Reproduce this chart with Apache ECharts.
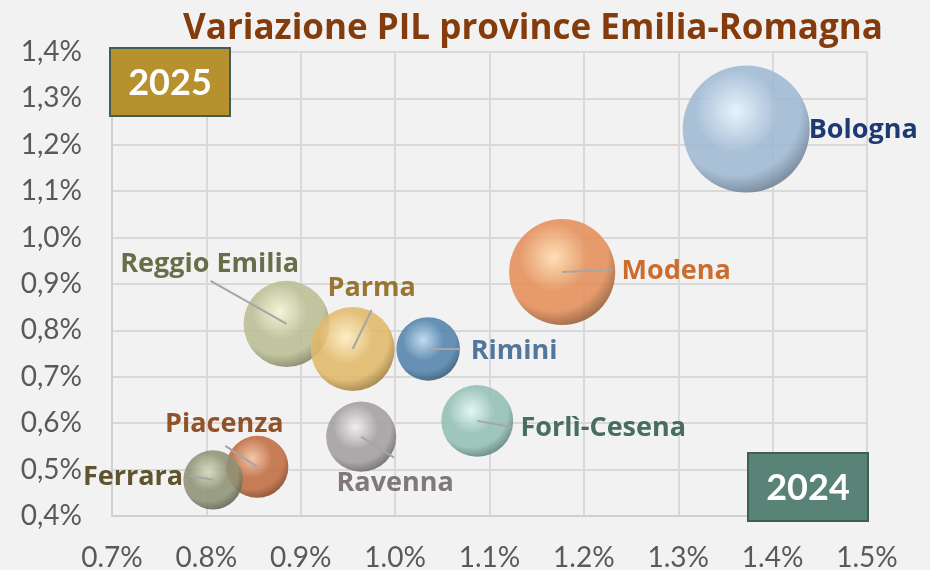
<!DOCTYPE html>
<html>
<head>
<meta charset="utf-8">
<script src="https://cdn.jsdelivr.net/npm/echarts@6/dist/echarts.min.js"></script>
<style>
  html, body { margin: 0; padding: 0; background: #F2F2F2; }
  #chart { width: 930px; height: 570px; }
</style>
</head>
<body>
<div id="chart"></div>
<script>
// dati: variazione PIL 2024 (asse x) e 2025 (asse y), in %
const province = ['Bologna', 'Modena', 'Reggio Emilia', 'Parma', 'Rimini', 'Forlì-Cesena', 'Ravenna', 'Piacenza', 'Ferrara'];
const var2024 = [1.372, 1.177, 0.885, 0.955, 1.035, 1.087, 0.964, 0.854, 0.807];
const var2025 = [1.234, 0.926, 0.814, 0.760, 0.760, 0.605, 0.571, 0.506, 0.478];
// dimensione bolla (PIL, mld euro, stimato)
const pil = [44, 30.7, 20.2, 19.2, 11.0, 14.1, 13.4, 10.5, 9.6];

// stile bolle: [luce, corpo, bordo]
const bubbleColors = [
  ['#E6F3FC', '#9FBAD3', '#56687A'],
  ['#FFDDAE', '#E58F5A', '#774828'],
  ['#F4F4D6', '#BBBE94', '#6B6D52'],
  ['#FFEDC0', '#E1B96A', '#84672A'],
  ['#B8D9F1', '#5383AC', '#2A4561'],
  ['#E0F8F1', '#93C0B6', '#486961'],
  ['#F2EEEE', '#A49EA1', '#535053'],
  ['#F4C2A0', '#C06C40', '#6B3518'],
  ['#D5D9B8', '#8E9275', '#4A4F3A']
];
const labelColors = ['#002060', '#C55A11', '#545B32', '#8C6417', '#3B6591', '#2F5B4B', '#6F6668', '#843C0C', '#4A3D12'];
// posizione etichette rispetto al centro bolla (px) e fine linea guida
const labelOffset = [[117, 1], [114, -1], [-77, -60], [19, -61], [86, 2], [126, 7], [34, 47], [-33, -43], [-80, -2]];
const lineEnd = [null, [50, -2], [-76, -43], [19, -39], [32, 0], [34, 6], [33, 21], [-32, -21], [-24, -4]];

const myChart = echarts.init(document.getElementById('chart'));

const bubbleData = province.map(function (name, i) {
  const c = bubbleColors[i];
  return {
    name: name,
    value: [var2024[i], var2025[i], pil[i]],
    itemStyle: {
      color: {
        type: 'radial', x: 0.42, y: 0.36, r: 0.72,
        colorStops: [
          { offset: 0, color: c[0] },
          { offset: 0.45, color: c[1] },
          { offset: 0.7, color: c[1] },
          { offset: 1, color: c[2] }
        ]
      }
    },
    label: {
      color: labelColors[i],
      offset: labelOffset[i]
    }
  };
});

myChart.setOption({
  backgroundColor: '#F2F2F2',
  animation: false,
  textStyle: { fontFamily: 'Lato' },
  title: {
    text: 'Variazione PIL province Emilia-Romagna',
    left: 178,
    top: 7,
    textStyle: { color: '#843C0C', fontSize: 35, fontWeight: 'bold', fontFamily: 'Open Sans' }
  },
  grid: { left: 112, right: 63, top: 52, bottom: 54, outerBoundsMode: 'none' },
  xAxis: {
    type: 'value',
    min: 0.7,
    max: 1.5,
    interval: 0.1,
    axisLine: { show: true, lineStyle: { color: '#D0D0D0', width: 2 } },
    axisTick: { show: false },
    splitLine: { lineStyle: { color: '#D9D9D9', width: 2 } },
    axisLabel: {
      color: '#595959', fontSize: 28, margin: 28,
      formatter: function (v) { return v.toFixed(1) + '%'; }
    }
  },
  yAxis: {
    type: 'value',
    min: 0.4,
    max: 1.4,
    interval: 0.1,
    axisLine: { show: true, lineStyle: { color: '#D0D0D0', width: 2 } },
    axisTick: { show: false },
    splitLine: { lineStyle: { color: '#D9D9D9', width: 2 } },
    axisLabel: {
      color: '#595959', fontSize: 28, margin: 30,
      formatter: function (v) { return v.toFixed(1).replace('.', ',') + '%'; }
    }
  },
  series: [
    {
      name: 'Province',
      type: 'scatter',
      data: bubbleData,
      symbolSize: function (val) { return 19.15 * Math.sqrt(val[2]); },
      itemStyle: { opacity: 0.88 },
      label: {
        show: true,
        position: 'inside',
        formatter: '{b}',
        fontSize: 27,
        fontWeight: 'bold',
        fontFamily: 'Open Sans'
      },
      z: 2
    },
    {
      name: 'linee',
      type: 'custom',
      data: province.map(function (p, i) { return [var2024[i], var2025[i], i]; }),
      z: 3,
      silent: true,
      renderItem: function (params, api) {
        const i = api.value(2);
        const end = lineEnd[i];
        if (!end) return null;
        const p = api.coord([api.value(0), api.value(1)]);
        return {
          type: 'line',
          shape: { x1: p[0], y1: p[1], x2: p[0] + end[0], y2: p[1] + end[1] },
          style: { stroke: '#A6A6A6', lineWidth: 2 }
        };
      }
    }
  ],
  graphic: [
    {
      type: 'group', left: 109, top: 47, z: 100,
      children: [
        { type: 'rect', z: 100, shape: { x: 0, y: 0, width: 120, height: 68 }, style: { fill: '#B8912F', stroke: '#3F5F56', lineWidth: 2 } },
        { type: 'text', z: 101, x: 60, y: 35, style: { text: '2025', fill: '#FFFFFF', font: 'bold 36px Lato', align: 'center', verticalAlign: 'middle' } }
      ]
    },
    {
      type: 'group', left: 747, top: 452, z: 100,
      children: [
        { type: 'rect', z: 100, shape: { x: 0, y: 0, width: 120, height: 68 }, style: { fill: '#5A8378', stroke: '#3F5F56', lineWidth: 2 } },
        { type: 'text', z: 101, x: 60, y: 35, style: { text: '2024', fill: '#FFFFFF', font: 'bold 36px Lato', align: 'center', verticalAlign: 'middle' } }
      ]
    }
  ]
});
</script>
</body>
</html>
